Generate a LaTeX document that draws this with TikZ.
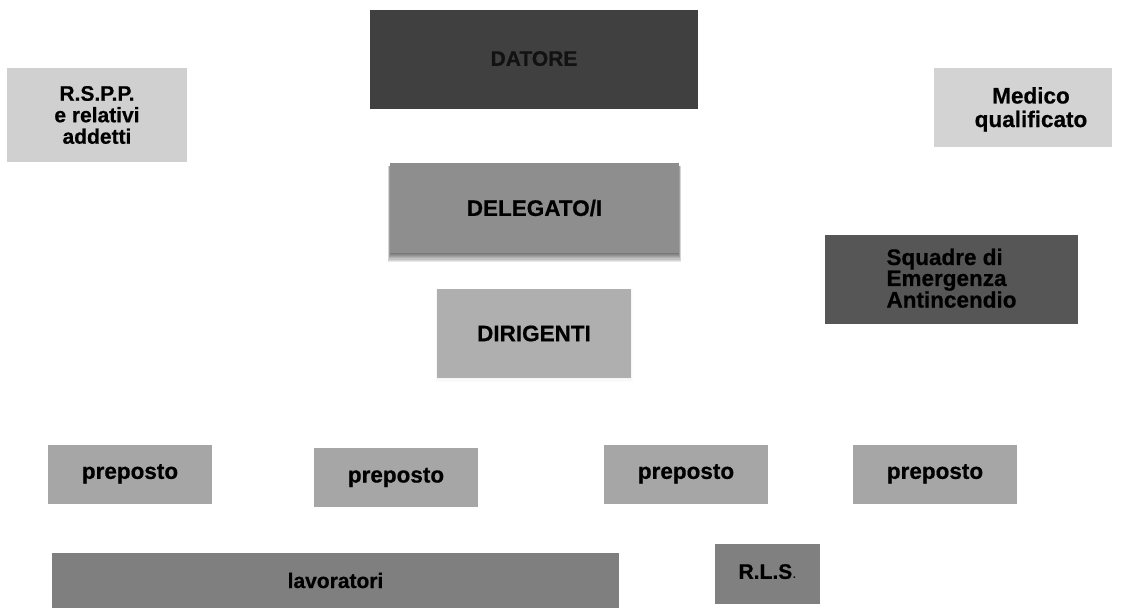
\documentclass[tikz,border=0pt]{standalone}
\usepackage{fontspec}
\setmainfont{Liberation Sans}[BoldFeatures={FakeBold=0.6}]
\usetikzlibrary{backgrounds}
\definecolor{cDatore}{HTML}{404040}
\definecolor{cDatoreTxt}{HTML}{121212}
\definecolor{cRspp}{HTML}{D0D0D0}
\definecolor{cMedico}{HTML}{D3D3D3}
\definecolor{cDeleg}{HTML}{8E8E8E}
\definecolor{cSquad}{HTML}{565656}
\definecolor{cDirig}{HTML}{AFAFAF}
\definecolor{cPrep}{HTML}{A6A6A6}
\definecolor{cLav}{HTML}{7F7F7F}
\definecolor{cRls}{HTML}{808080}
\tikzset{
  orgbox/.style={rectangle, inner sep=0pt, outer sep=0pt, draw=none, align=center,
    font=\fontsize{21}{21.5}\selectfont\bfseries, text=black},
  bigtxt/.style={font=\fontsize{22.5}{22.5}\selectfont\bfseries},
  prepbox/.style={orgbox, bigtxt, fill=cPrep, minimum width=164pt, minimum height=59pt}
}
\begin{document}
\begin{tikzpicture}[x=1pt,y=-1pt]
\useasboundingbox (0,0) rectangle (1125,609);
% top
\node[orgbox, fill=cDatore, text=cDatoreTxt, minimum width=328pt, minimum height=99pt] (datore) at (534,59.5) {\raisebox{2pt}{DATORE}};
\node[orgbox, fill=cRspp, minimum width=180pt, minimum height=94pt] (rspp) at (97,115) {R.S.P.P.\\e relativi\\addetti};
\node[orgbox, bigtxt, fill=cMedico, minimum width=178pt, minimum height=79pt] (medico) at (1023,107.5) {\hspace*{16pt}\raisebox{-3pt}[\height][\depth]{\begin{tabular}{@{}c@{}}Medico\\[0.5pt]qualificato\end{tabular}}};
% middle
\node[orgbox, bigtxt, fill=cDeleg, minimum width=289pt, minimum height=90pt] (delegato) at (534.5,208) {\raisebox{-3pt}{DELEGATO/I}};
\node[orgbox, bigtxt, fill=cSquad, minimum width=253pt, minimum height=89pt] (squadre) at (951.5,279.5) {\raisebox{-2pt}[\height][\depth]{\begin{tabular}{@{}l@{}}Squadre di\\[-1.5pt]Emergenza\\[-1.5pt]Antincendio\end{tabular}}};
\node[orgbox, bigtxt, fill=cDirig, minimum width=194pt, minimum height=89pt] (dirigenti) at (534,333.5) {\raisebox{-2pt}{DIRIGENTI}};
% preposti
\node[prepbox] (p1) at (130,474.5) {\raisebox{6pt}{preposto}};
\node[prepbox] (p2) at (396,477.5) {\raisebox{3pt}{preposto}};
\node[prepbox] (p3) at (686,474.5) {\raisebox{6pt}{preposto}};
\node[prepbox] (p4) at (935,474.5) {\raisebox{6pt}{preposto}};
% bottom
\node[orgbox, fill=cLav, minimum width=567pt, minimum height=55pt] (lav) at (335.5,580.5) {lavoratori};
\node[orgbox, fill=cRls, minimum width=105pt, minimum height=60pt] (rls) at (767.5,574) {\raisebox{5pt}{R.L.S{\mdseries\fontsize{15}{15}\selectfont .}}};
% background and soft shadows
\begin{scope}[on background layer]
\fill[white] (0,0) rectangle (1125,609);
\foreach \s in {1,...,8}{
  \fill[black, opacity=0.085] ([xshift={-0.35pt*\s+0.8pt}, yshift=-3pt]delegato.north west) rectangle ([xshift={0.35pt*\s-0.8pt}, yshift={-1.1pt*\s}]delegato.south east);
}
\foreach \s in {1,...,3}{
  \fill[black, opacity=0.012] ([xshift={-0.5pt*\s}]dirigenti.north west) rectangle ([xshift={0.5pt*\s}, yshift={-1.5pt*\s}]dirigenti.south east);
}
\end{scope}
\end{tikzpicture}
\end{document}
